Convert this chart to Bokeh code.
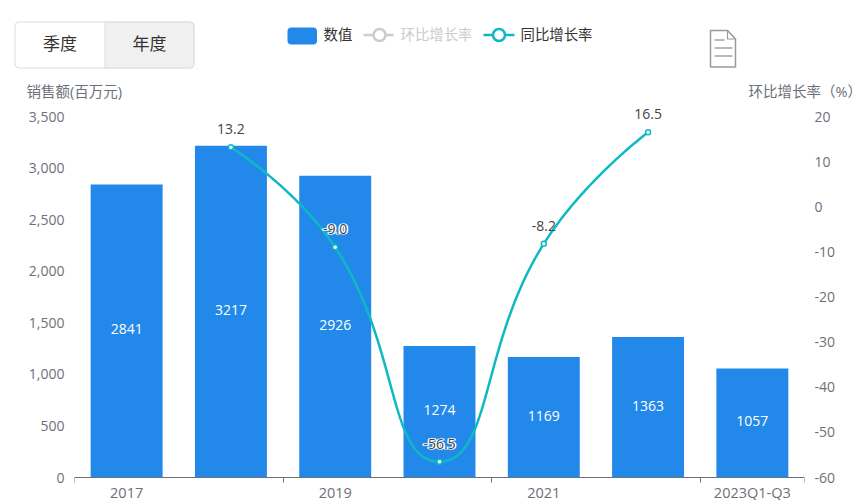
from bokeh.plotting import figure
from bokeh.layouts import column
from bokeh.models import (Range1d, LinearAxis, FixedTicker, NumeralTickFormatter, ColumnDataSource)
from bokeh.core.properties import value
from bokeh.embed import file_html
from bokeh.resources import INLINE
import numpy as np

years = ["2017", "2018", "2019", "2020", "2021", "2022", "2023Q1-Q3"]
shown_year_labels = ["2017", "2019", "2021", "2023Q1-Q3"]
sales = [2841, 3217, 2926, 1274, 1169, 1363, 1057]
yoy_years = [1, 2, 3, 4, 5]
yoy_growth = [13.2, -9.0, -56.5, -8.2, 16.5]
left_ticks = [0, 500, 1000, 1500, 2000, 2500, 3000, 3500]
right_ticks = [-60, -50, -40, -30, -20, -10, 0, 10, 20]

FONT = "Open Sans, Noto Sans CJK SC"
W, H = 858, 500
HEAD = 100             # rows given to the header strip (buttons, legend, icon, axis names)
L, R = 74, 54
AXIS_TOP_PX, AXIS_BOTTOM_PX = 116, 477   # pixel rows of the top and the zero ticks
AXIS_PX = AXIS_BOTTOM_PX - AXIS_TOP_PX
EXTRA_TOP = (AXIS_TOP_PX - HEAD) / AXIS_PX
EXTRA_BOTTOM = (H - AXIS_BOTTOM_PX) / AXIS_PX
PW = W - L - R
BLUE = "#2289EB"
TEAL = "#0FB9C3"
AXIS = "#6E7079"

# ---------- header strip, its scales are simply pixels of the page
h = figure(width=W, height=HEAD, output_backend="svg", toolbar_location=None,
           x_range=Range1d(0, W), y_range=Range1d(HEAD, 0),
           min_border_left=0, min_border_right=0, min_border_top=0, min_border_bottom=0)
h.axis.visible = False
h.grid.visible = False
h.outline_line_color = None
h.border_fill_color = "white"

def htext(x, y, text, size, color, align="left"):
    h.text([x], [y], text=[text], text_font=value(FONT), text_font_size=size, text_color=color,
           text_align=align, text_baseline="middle")

# segmented button
h.quad(left=14.5, right=193.5, top=21.5, bottom=67.5, fill_color="white",
       line_color="#DCDCDC", line_width=1, border_radius=4)
h.quad(left=104.5, right=193.5, top=21.5, bottom=67.5, fill_color="#F0F0F0",
       line_color="#DCDCDC", line_width=1, border_radius=(0, 4, 4, 0))
htext(59.5, 42.5, "季度", "17px", "#333333", "center")
htext(149, 42.5, "年度", "17px", "#333333", "center")

# legend
h.quad(left=287, right=316.5, top=27, bottom=44, fill_color=BLUE, line_color=None, border_radius=4)
htext(323, 34, "数值", "14.4px", "#333333")
h.line([363, 393], [34.5, 34.5], line_color="#CCCCCC", line_width=2.5)
h.scatter([379], [34.5], size=12, fill_color="white", line_color="#CCCCCC", line_width=2.5)
htext(400, 34, "环比增长率", "14.4px", "#CCCCCC")
h.line([483, 514], [34.5, 34.5], line_color=TEAL, line_width=2.5)
h.scatter([498.5], [34.5], size=12, fill_color="white", line_color=TEAL, line_width=2.5)
htext(520, 34, "同比增长率", "14.4px", "#333333")

# document icon
h.patch([710, 727, 735, 735, 710], [30, 30, 38.5, 66.5, 66.5], fill_color="white",
        line_color="#999999", line_width=1.5)
h.line([727, 727, 735], [30, 38.5, 38.5], line_color="#999999", line_width=1.2)
h.line([714, 724], [39.5, 39.5], line_color="#777777", line_width=1)
h.line([714, 732], [47.5, 47.5], line_color="#777777", line_width=1)
h.line([714, 732], [55.5, 55.5], line_color="#777777", line_width=1)

# axis names
htext(26, 90.5, "销售额(百万元)", "14.5px", AXIS)
htext(748, 90.5, "环比增长率（%）", "14.5px", AXIS)

# ---------- chart: frame reaches the page bottom, x axis passes through y=0
p = figure(width=W, height=H - HEAD, output_backend="svg", toolbar_location=None,
           x_range=Range1d(0, 7), y_range=Range1d(-3500 * EXTRA_BOTTOM, 3500 * (1 + EXTRA_TOP)),
           min_border_left=L, min_border_right=R, min_border_top=0, min_border_bottom=0,
           x_axis_location="below", y_axis_location="left")
p.outline_line_color = None
p.grid.visible = False
p.background_fill_color = "white"
p.border_fill_color = "white"

xa = p.xaxis[0]
xa.fixed_location = 0
xa.ticker = FixedTicker(ticks=[0.5, 2.5, 4.5, 6.5], minor_ticks=[0, 2, 4, 6, 7])
xa.major_label_overrides = {0.5: shown_year_labels[0], 2.5: shown_year_labels[1],
                            4.5: shown_year_labels[2], 6.5: shown_year_labels[3]}
xa.major_tick_line_color = None
xa.major_tick_out = 0
xa.minor_tick_out = 5
xa.minor_tick_in = 0
xa.minor_tick_line_color = AXIS
xa.axis_line_color = AXIS
xa.major_label_standoff = 0
xa.major_label_text_font = "Open Sans"
xa.major_label_text_font_size = "14.5px"
xa.major_label_text_color = AXIS

ya = p.yaxis[0]
ya.ticker = FixedTicker(ticks=left_ticks)
ya.formatter = NumeralTickFormatter(format="0,0")
ya.axis_line_color = None
ya.major_tick_line_color = None
ya.major_tick_out = 0
ya.minor_tick_line_color = None
ya.major_label_standoff = 10
ya.major_label_text_font = FONT
ya.major_label_text_font_size = "14px"
ya.major_label_text_color = AXIS

p.extra_y_ranges = {"pct": Range1d(-60 - 80 * EXTRA_BOTTOM, 20 + 80 * EXTRA_TOP)}
ra = LinearAxis(y_range_name="pct", ticker=FixedTicker(ticks=right_ticks))
ra.major_label_overrides = {v: str(v) for v in right_ticks}
ra.axis_line_color = None
ra.major_tick_line_color = None
ra.major_tick_out = 0
ra.minor_tick_line_color = None
ra.major_label_standoff = 10
ra.major_label_text_font = FONT
ra.major_label_text_font_size = "14px"
ra.major_label_text_color = AXIS
p.add_layout(ra, "right")

# bars
xs = np.arange(len(sales)) + 0.5
bars = ColumnDataSource(dict(x=xs, top=sales, mid=[v / 2 for v in sales], txt=[str(v) for v in sales]))
p.vbar(x="x", top="top", bottom=0, width=0.69, source=bars, fill_color=BLUE, line_color=None)
p.text(x="x", y="mid", y_offset=-1.5, text="txt", source=bars, text_color="white", text_font=value(FONT),
       text_font_size="14px", text_align="center", text_baseline="middle")

# smooth line (ECharts-like smoothing, computed from the data in pixel space)
lx = [yoy_years[i] + 0.5 for i in range(len(yoy_years))]
ux, uy = PW / 7, AXIS_PX / 80
px = np.array(lx) * ux
py = np.array(yoy_growth) * uy
smooth = 0.5
n = len(px)
cp_after = [(px[0], py[0])] * n
cp_before = [(px[-1], py[-1])] * n
for i in range(1, n - 1):
    dx, dy = px[i + 1] - px[i - 1], py[i + 1] - py[i - 1]
    d0 = np.hypot(px[i] - px[i - 1], py[i] - py[i - 1])
    d1 = np.hypot(px[i + 1] - px[i], py[i + 1] - py[i])
    r = d1 / (d0 + d1)
    cp_before[i] = (px[i] - dx * smooth * (1 - r), py[i] - dy * smooth * (1 - r))
    cp_after[i] = (px[i] + dx * smooth * r, py[i] + dy * smooth * r)
cx, cy = [], []
ts = np.linspace(0, 1, 40)
for i in range(n - 1):
    a, b = cp_after[i], cp_before[i + 1]
    cx.extend((1 - ts) ** 3 * px[i] + 3 * (1 - ts) ** 2 * ts * a[0] + 3 * (1 - ts) * ts ** 2 * b[0] + ts ** 3 * px[i + 1])
    cy.extend((1 - ts) ** 3 * py[i] + 3 * (1 - ts) ** 2 * ts * a[1] + 3 * (1 - ts) * ts ** 2 * b[1] + ts ** 3 * py[i + 1])
p.line(np.array(cx) / ux, np.array(cy) / uy, y_range_name="pct", line_color=TEAL, line_width=2.5)
p.scatter(lx, yoy_growth, y_range_name="pct", size=5, fill_color="white", line_color=TEAL, line_width=1.5)
lbl = [f"{v:.1f}" for v in yoy_growth]
# white halo behind the labels that lie on a bar
on_bar = [1, 2]
for off in (-1, 1):
    p.text(x=[lx[i] for i in on_bar], y=[yoy_growth[i] for i in on_bar], text=[lbl[i] for i in on_bar],
           y_range_name="pct", x_offset=off, y_offset=-18, text_color="white",
           text_outline_color="white", text_font=value(FONT),
           text_font_size="14px", text_align="center", text_baseline="middle")
p.text(x=lx, y=yoy_growth, text=lbl, y_range_name="pct", y_offset=-18, text_color="#444444",
       text_font=value(FONT), text_font_size="14px", text_align="center", text_baseline="middle")

layout = column(column(h), column(p), spacing=0)
open("out.html", "w").write(file_html(layout, INLINE))
